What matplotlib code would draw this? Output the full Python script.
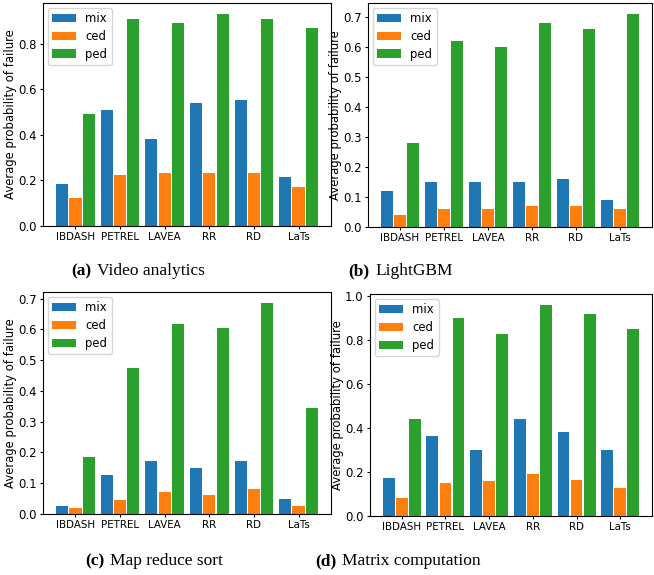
import numpy as np
import matplotlib
matplotlib.use("Agg")
import matplotlib.pyplot as plt

methods = ["IBDASH", "PETREL", "LAVEA", "RR", "RD", "LaTs"]
series = ["mix", "ced", "ped"]

# (a) Video analytics
video_mix = [0.183, 0.51, 0.383, 0.54, 0.553, 0.213]
video_ced = [0.122, 0.222, 0.231, 0.231, 0.231, 0.17]
video_ped = [0.492, 0.91, 0.893, 0.932, 0.91, 0.871]

# (b) LightGBM
lgbm_mix = [0.12, 0.15, 0.15, 0.15, 0.16, 0.09]
lgbm_ced = [0.04, 0.06, 0.06, 0.07, 0.07, 0.06]
lgbm_ped = [0.28, 0.62, 0.60, 0.68, 0.66, 0.71]

# (c) Map reduce sort
mrs_mix = [0.025, 0.126, 0.172, 0.149, 0.172, 0.048]
mrs_ced = [0.019, 0.045, 0.071, 0.061, 0.080, 0.025]
mrs_ped = [0.185, 0.475, 0.618, 0.605, 0.687, 0.345]

# (d) Matrix computation
mat_mix = [0.173, 0.362, 0.299, 0.443, 0.38, 0.299]
mat_ced = [0.083, 0.15, 0.159, 0.191, 0.164, 0.128]
mat_ped = [0.443, 0.902, 0.826, 0.961, 0.916, 0.848]

W, H = 654, 575
colors = ["#1f77b4", "#ff7f0e", "#2ca02c"]
plt.rcParams["font.size"] = 8.4


def box(left, right, top, bottom):
    # pixel box -> figure fraction
    return [left / W, (H - bottom) / H, (right - left) / W, (bottom - top) / H]


def bar_panel(ax, mix, ced, ped):
    x = np.arange(len(methods))
    for i, (name, vals) in enumerate(zip(series, [mix, ced, ped])):
        ax.bar(x + (i - 1) * 0.3, vals, width=0.27, color=colors[i], label=name)
    ax.set_xticks(x)
    ax.set_xticklabels(methods)
    ax.set_ylabel("Average probability of failure", labelpad=1)
    ax.tick_params(length=2.5, pad=2)
    ax.tick_params(axis="x", labelsize=7.4, pad=1.5)
    ax.tick_params(axis="y", labelsize=8.4)
    ax.legend(loc="upper left", fontsize=8.4, labelspacing=0.4, borderaxespad=0.4)


def caption(fig, xsplit, y, tag, text):
    fig.text((xsplit - 3) / W, (H - y) / H, tag, ha="right", va="center",
             family="Liberation Serif", weight="bold", fontsize=12.5)
    fig.text((xsplit + 3) / W, (H - y) / H, text, ha="left", va="center",
             family="Liberation Serif", fontsize=12.5)


fig = plt.figure(figsize=(W / 100, H / 100), dpi=100)

ax_a = fig.add_axes(box(43, 331, 3, 226))
bar_panel(ax_a, video_mix, video_ced, video_ped)
ax_b = fig.add_axes(box(368, 652, 3, 227))
bar_panel(ax_b, lgbm_mix, lgbm_ced, lgbm_ped)
ax_c = fig.add_axes(box(43, 331, 292, 514))
bar_panel(ax_c, mrs_mix, mrs_ced, mrs_ped)
ax_d = fig.add_axes(box(370, 652, 294, 516))
bar_panel(ax_d, mat_mix, mat_ced, mat_ped)

caption(fig, 94, 271, "(a)", "Video analytics")
caption(fig, 372, 271, "(b)", "LightGBM")
caption(fig, 107, 561, "(c)", "Map reduce sort")
caption(fig, 339, 561, "(d)", "Matrix computation")

fig.savefig("out.png", dpi=100)
